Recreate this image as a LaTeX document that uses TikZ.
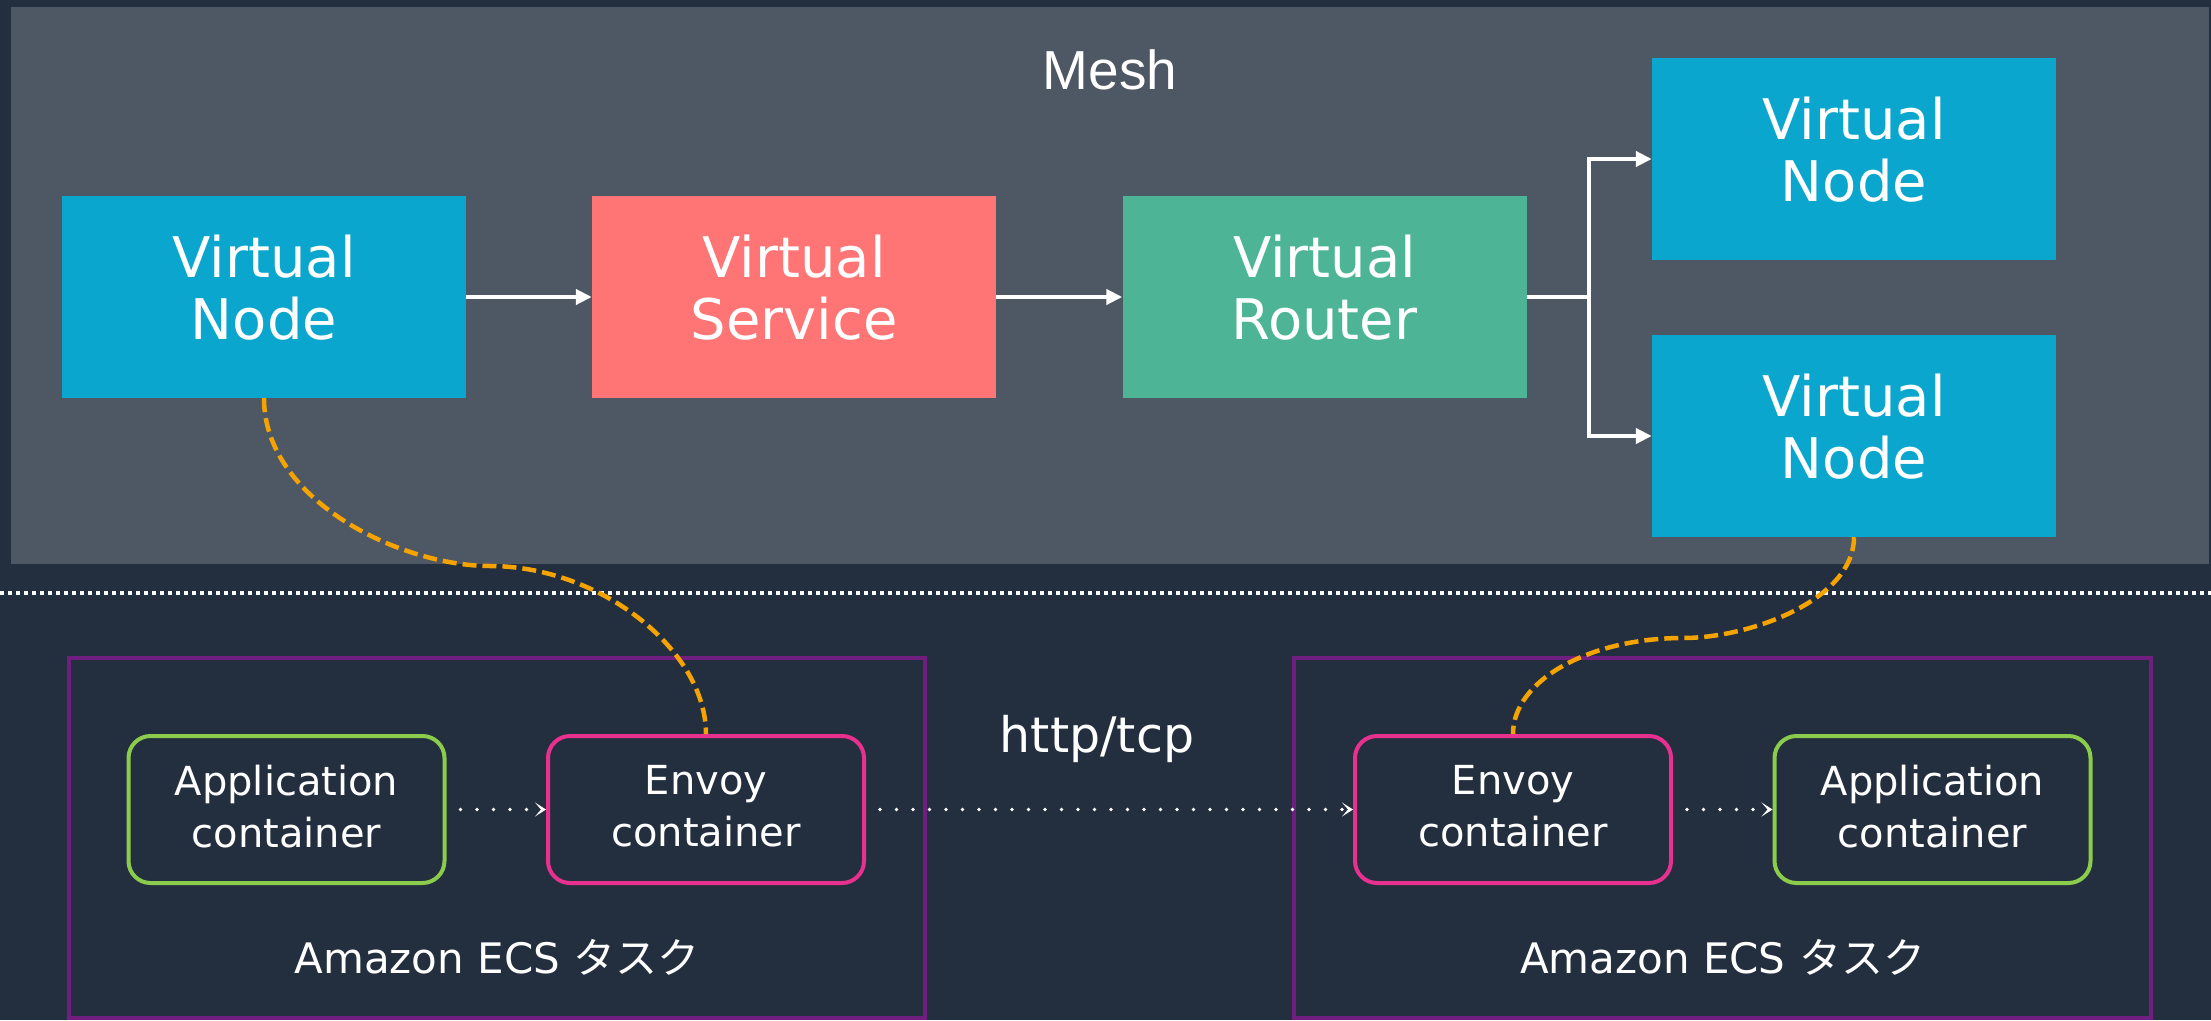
\documentclass[tikz,border=0pt]{standalone}
\usepackage{fontspec}
\setmainfont{DejaVu Sans}
\newfontfamily\meshfont{Liberation Sans}
\newfontfamily\jpfont{Noto Sans CJK JP}
\usetikzlibrary{arrows.meta}
\definecolor{bgc}{HTML}{232F3E}
\definecolor{panelc}{HTML}{4E5764}
\definecolor{vnc}{HTML}{0BA6CD}
\definecolor{vsc}{HTML}{FF7474}
\definecolor{vrc}{HTML}{4DB595}
\definecolor{taskc}{HTML}{701E80}
\definecolor{appc}{HTML}{8CCC4C}
\definecolor{envc}{HTML}{E8308E}
\definecolor{orangec}{HTML}{F5A300}
\tikzset{
  vbox/.style={rectangle, inner sep=0pt, minimum width=404pt, minimum height=202pt,
    text=white, align=center, font=\fontsize{56}{62}\selectfont, text depth=20pt},
  cbox/.style={rectangle, rounded corners=22pt, line width=4pt, inner sep=0pt,
    minimum width=316pt, minimum height=147pt, text=white, align=center,
    font=\fontsize{40}{52}\selectfont, text depth=7pt},
  taskbox/.style={rectangle, draw=taskc, line width=4pt, inner sep=0pt},
  flow/.style={draw=white, line width=4pt, -{Triangle[length=16pt,width=15pt]}},
  dotarrow/.style={draw=white, line width=3.8pt, line cap=round, dash pattern=on 0pt off 16.5pt,
    shorten <=14pt, -{Stealth[length=11pt,width=14pt,inset=6pt]}},
  orangedash/.style={draw=orangec, line width=4.5pt, dash pattern=on 14pt off 6pt},
  lbl/.style={text=white, anchor=base, inner sep=0pt}
}
\begin{document}
\begin{tikzpicture}[x=1pt,y=-1pt]
\fill[bgc] (0,0) rectangle (2211,1020);
\useasboundingbox (0,0) rectangle (2211,1020);

% mesh panel
\node[rectangle, fill=panelc, inner sep=0pt, minimum width=2198pt, minimum height=557pt] (mesh) at (1110,285.5) {};
\node[lbl, font=\meshfont\fontsize{55}{60}\selectfont] (meshlabel) at (1110,89) {Mesh};

% separator
\coordinate (sepL) at (0,593);
\coordinate (sepR) at (2211,593);
\draw[white, line width=4pt, dash pattern=on 4pt off 4pt] (sepL) -- (sepR);

% mesh nodes
\node[vbox, fill=vnc] (vn1) at (264,297) {Virtual\\Node};
\node[vbox, fill=vsc] (vs) at (794,297) {Virtual\\Service};
\node[vbox, fill=vrc] (vr) at (1324.5,297) {Virtual\\Router};
\node[vbox, fill=vnc] (vnt) at (1854,159) {Virtual\\Node};
\node[vbox, fill=vnc] (vnb) at (1854,436) {Virtual\\Node};

\draw[flow] (vn1.east) -- (vs.west);
\draw[flow] (vs.east) -- (vr.west);
\draw[flow] (vr.east) -- ++(62,0) |- (vnt.west);
\draw[flow] (vr.east) -- ++(62,0) |- (vnb.west);

% tasks
\node[taskbox, minimum width=856pt, minimum height=360.5pt] (task1) at (497,837.75) {};
\node[taskbox, minimum width=857pt, minimum height=360.5pt] (task2) at (1722.5,837.75) {};
\node[lbl, font=\fontsize{42}{48}\selectfont] (task1label) at (497,973) {Amazon ECS {\jpfont タスク}};
\node[lbl, font=\fontsize{42}{48}\selectfont] (task2label) at (1722.5,973) {Amazon ECS {\jpfont タスク}};

% containers
\node[cbox, draw=appc] (app1) at (286.5,809.5) {Application\\container};
\node[cbox, draw=envc] (env1) at (706,809.5) {Envoy\\container};
\node[cbox, draw=envc] (env2) at (1513,809.5) {Envoy\\container};
\node[cbox, draw=appc] (app2) at (1932.5,809.5) {Application\\container};

\node[lbl, font=\fontsize{49}{58}\selectfont] (proto) at (1097,752) {http/tcp};

\draw[dotarrow] (app1.east) -- (env1.west);
\draw[dotarrow] (env1.east) -- (env2.west);
\draw[dotarrow] (env2.east) -- (app2.west);

% links
\draw[orangedash] (vn1.south) .. controls (264,500) and (400,566) .. (490,566)
  .. controls (600,566) and (706,650) .. (env1.north);
\draw[orangedash] (vnb.south) .. controls (1854,600) and (1750,638) .. (1683,638)
  .. controls (1590,638) and (1513,680) .. (env2.north);
\end{tikzpicture}
\end{document}
